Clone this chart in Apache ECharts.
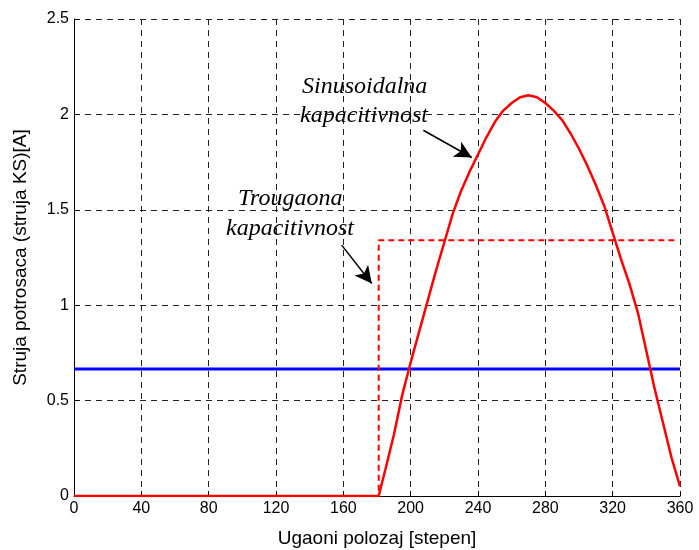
<!DOCTYPE html>
<html>
<head>
    <meta charset="utf-8">
    <title>Struja potrosaca</title>
    <script src="https://cdn.jsdelivr.net/npm/echarts@6/dist/echarts.min.js"></script>
</head>
<body style="margin:0">
<div id="main" style="width:699px;height:550px;"></div>
<script type="text/javascript">
    // ugao [stepen]
    var sinX = [0, 181, 185, 190, 195, 200, 205, 210, 215, 220, 225, 230, 235, 240, 245, 250, 255, 260, 265,
        270, 275, 280, 285, 290, 295, 300, 305, 310, 315, 320, 325, 330, 335, 340, 345, 350, 355, 360]
    // sinusoidalna kapacitivnost
    var sinY = [0, 0, 0.14, 0.32, 0.53, 0.70, 0.86, 1.02, 1.18, 1.33, 1.48, 1.60, 1.70, 1.79, 1.88, 1.96, 2.02, 2.06, 2.09,
        2.10, 2.09, 2.06, 2.02, 1.97, 1.90, 1.82, 1.73, 1.63, 1.52, 1.38, 1.24, 1.11, 0.96, 0.76, 0.56, 0.38, 0.20, 0.05]
    // trougaona kapacitivnost
    var triX = [0, 181, 181, 359]
    var triY = [0, 0, 1.34, 1.34]
    // konstantna struja
    var constX = [0, 360]
    var constY = [0.665, 0.665]

    function pairs(xs, ys) {
        var out = []
        for (var i = 0; i < xs.length; i++) out.push([xs[i], ys[i]])
        return out
    }

    var font = 'Liberation Sans, Arial, sans-serif'
    var serif = 'Liberation Serif, Times New Roman, serif'

    var myChart = echarts.init(document.getElementById('main'))
    var option = {
        animation: false,
        backgroundColor: '#fff',
        grid: {left: 74, right: 19, top: 19, bottom: 54, containLabel: false, outerBoundsMode: 'none'},
        xAxis: {
            type: 'value', min: 0, max: 360, interval: 40,
            name: 'Ugaoni polozaj [stepen]', nameLocation: 'middle', nameGap: 33,
            nameTextStyle: {fontFamily: font, fontSize: 19, color: '#000'},
            axisLine: {lineStyle: {color: '#000', width: 1}},
            axisTick: {inside: true, length: 5, lineStyle: {color: '#000'}},
            axisLabel: {fontFamily: font, fontSize: 16, color: '#000', margin: 5},
            splitLine: {show: true, lineStyle: {color: '#222', type: [6, 5], width: 1}}
        },
        yAxis: {
            type: 'value', min: 0, max: 2.5, interval: 0.5,
            name: 'Struja potrosaca (struja KS)[A]', nameLocation: 'middle', nameGap: 44,
            nameTextStyle: {fontFamily: font, fontSize: 19, color: '#000'},
            axisLine: {show: true, lineStyle: {color: '#000', width: 1}},
            axisTick: {show: true, inside: true, length: 5, lineStyle: {color: '#000'}},
            axisLabel: {fontFamily: font, fontSize: 16, color: '#000', margin: 5,
                formatter: function (v) { return String(v) }},
            splitLine: {show: true, lineStyle: {color: '#222', type: [6, 5], width: 1}}
        },
        series: [
            {
                type: 'line', data: pairs(constX, constY), symbol: 'none',
                lineStyle: {color: '#0000ff', width: 3}
            },
            {
                type: 'line', data: pairs(triX, triY), symbol: 'none',
                lineStyle: {color: '#ff0000', width: 2, type: [6, 4]}
            },
            {
                type: 'line', data: pairs(sinX, sinY), symbol: 'none',
                lineStyle: {color: '#ff0000', width: 2.5},
                markLine: {
                    silent: true, symbol: ['none', 'arrow'], symbolSize: [13, 17],
                    label: {show: false},
                    lineStyle: {color: '#000', width: 1.5, type: 'solid'},
                    data: [
                        [{coord: [207.5, 1.917]}, {coord: [236.3, 1.774]}],
                        [{coord: [159.0, 1.315]}, {coord: [176.9, 1.114]}]
                    ]
                }
            }
        ],
        graphic: [
            {type: 'text', left: 302, top: 75, style: {text: 'Sinusoidalna', font: 'italic 24px ' + serif, fill: '#000'}},
            {type: 'text', left: 300, top: 104, style: {text: 'kapacitivnost', font: 'italic 24px ' + serif, fill: '#000'}},
            {type: 'text', left: 238, top: 187, style: {text: 'Trougaona', font: 'italic 24px ' + serif, fill: '#000'}},
            {type: 'text', left: 226, top: 217, style: {text: 'kapacitivnost', font: 'italic 24px ' + serif, fill: '#000'}}
        ]
    }
    myChart.setOption(option)
</script>
</body>
</html>
